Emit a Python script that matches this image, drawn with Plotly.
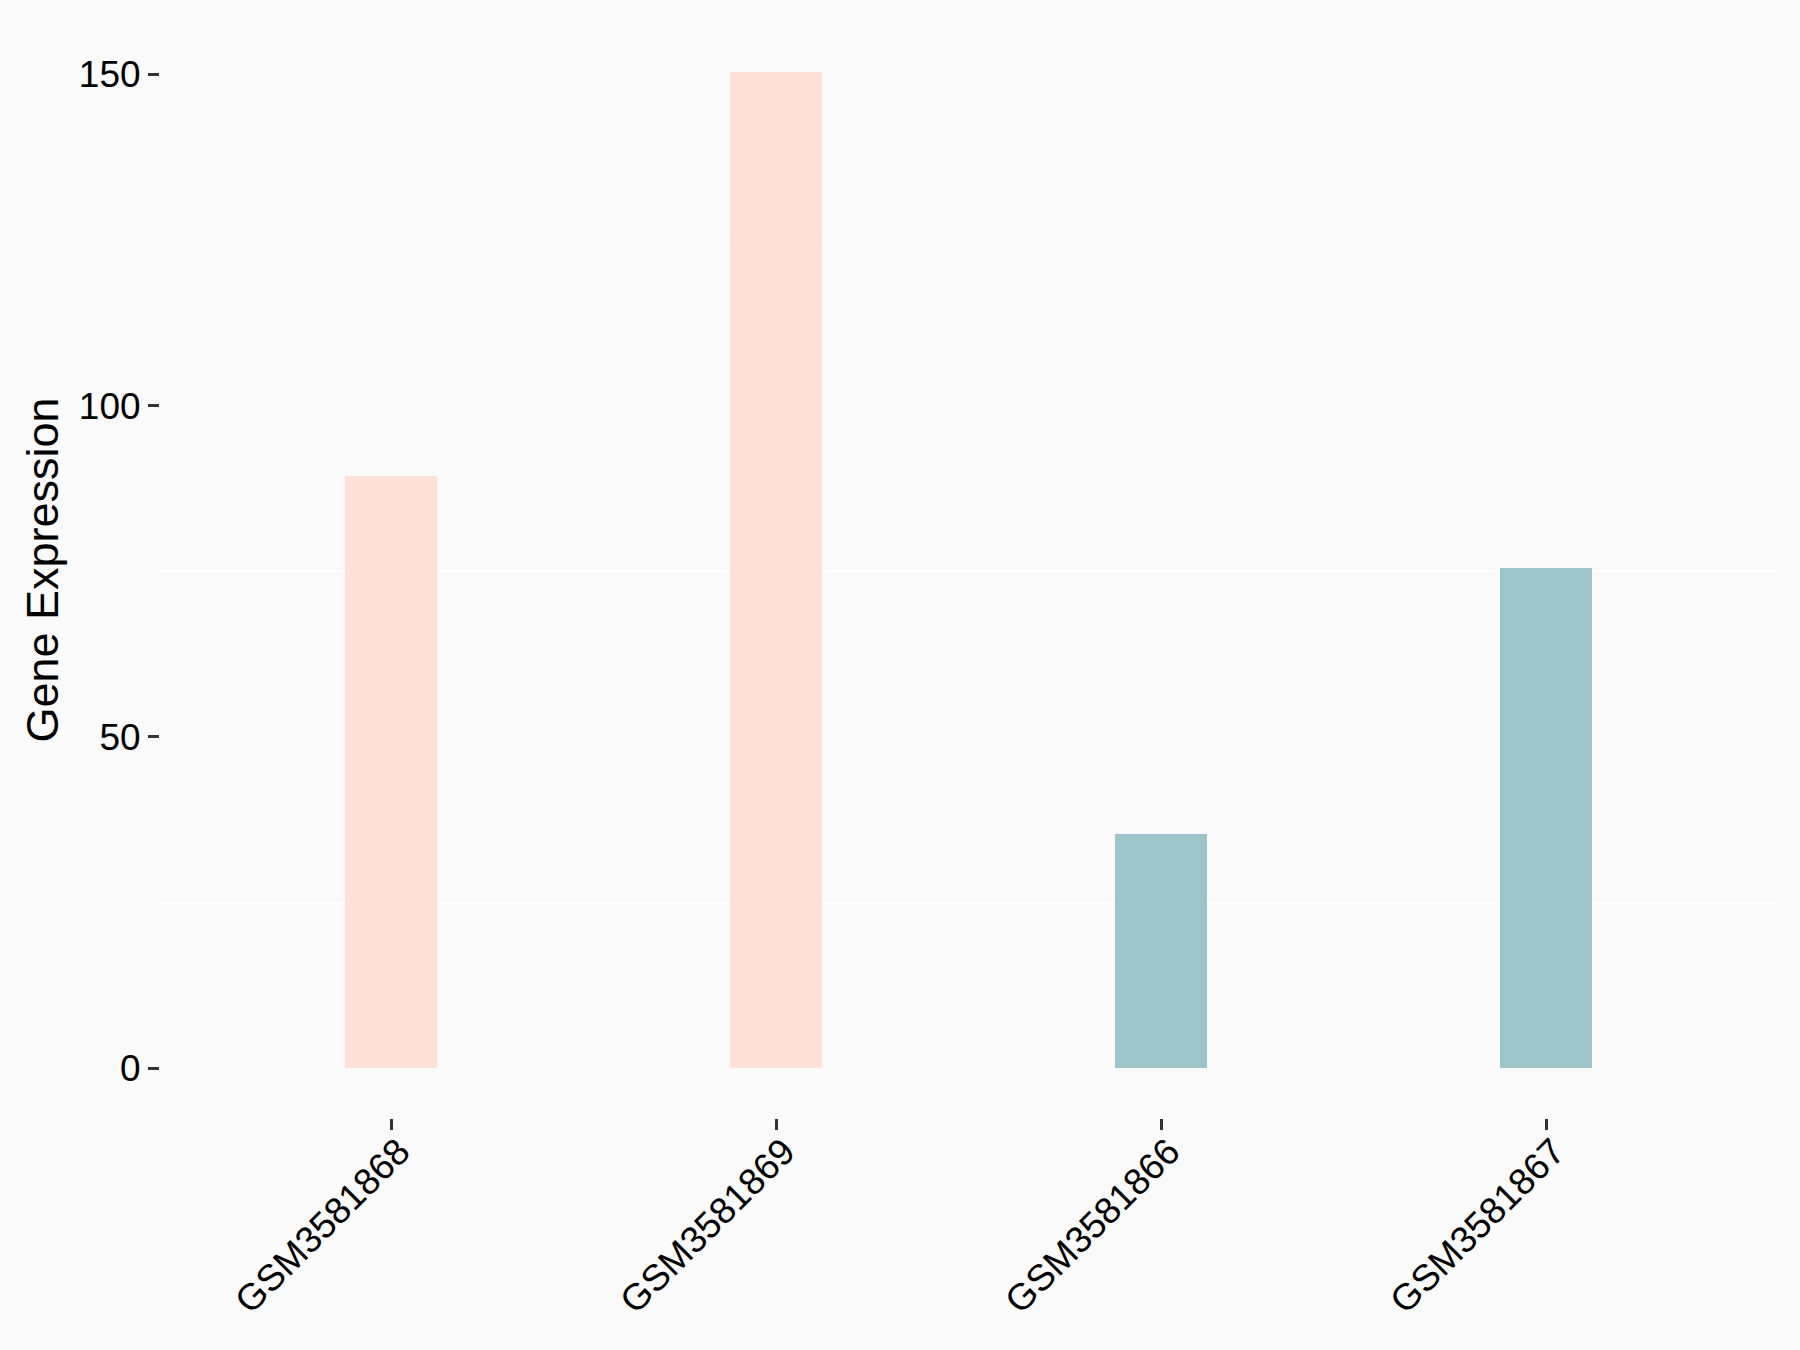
import plotly.graph_objects as go

samples = ["GSM3581868", "GSM3581869", "GSM3581866", "GSM3581867"]
expression = [89.4, 150.35, 35.3, 75.5]
bar_colors = ["#FEE0D6", "#FEE0D6", "#9DC4C8", "#9DC4C8"]
y_ticks = [0, 50, 100, 150]
y_minor_grid = [25, 75, 125]

fig = go.Figure(
    go.Bar(
        x=samples,
        y=expression,
        marker=dict(color=bar_colors, line=dict(width=0)),
        width=0.24,
        showlegend=False,
    )
)

font_family = "Liberation Sans, Arial, sans-serif"
fig.update_layout(
    width=1800,
    height=1350,
    paper_bgcolor="#FAFAFA",
    plot_bgcolor="#FAFAFA",
    margin=dict(l=160, r=23, t=22, b=232),
    font=dict(family=font_family, color="black"),
    bargap=0,
)
fig.update_xaxes(
    range=[-0.6, 3.6],
    showgrid=False,
    zeroline=False,
    showline=False,
    ticks="outside",
    ticklen=11,
    tickwidth=3,
    tickcolor="#333333",
    tickangle=-45,
    ticklabelstandoff=-15,
    ticklabelshift=8,
    tickfont=dict(size=37, family=font_family, color="black"),
)
fig.update_yaxes(
    range=[-7.52, 157.9],
    tickvals=y_ticks,
    ticktext=[str(v) for v in y_ticks],
    showgrid=False,
    zeroline=False,
    showline=False,
    ticks="outside",
    ticklen=11,
    tickwidth=3,
    tickcolor="#333333",
    tickfont=dict(size=37, family=font_family, color="black"),
    title=dict(text="Gene Expression", font=dict(size=45, family=font_family, color="black"), standoff=6),
    minor=dict(tickmode="array", tickvals=y_minor_grid, showgrid=True,
               gridcolor="white", gridwidth=2, ticks=""),
)

fig.write_html(
    "out.html",
    config={"displayModeBar": False},
    post_script="document.body.style.margin='0';document.body.style.background='#FAFAFA';",
)
